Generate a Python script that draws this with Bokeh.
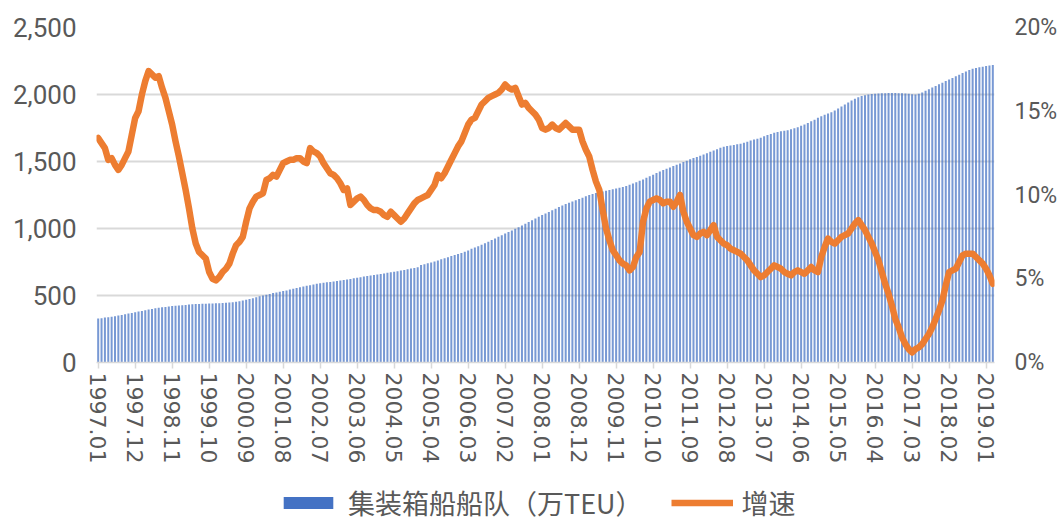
from bokeh.plotting import figure
from bokeh.layouts import column
from bokeh.models import (Range1d, LinearAxis, FixedTicker, NumeralTickFormatter,
                          Legend, LegendItem, ColumnDataSource)
from bokeh.embed import file_html
from bokeh.resources import INLINE

# ---------------- data ----------------
start_year = 1997
n_months = 267  # 1997.01 .. 2019.03
months = [f"{start_year + k // 12}.{k % 12 + 1:02d}" for k in range(n_months)]

tick_labels = ["1997.01", "1997.12", "1998.11", "1999.10", "2000.09", "2001.08",
               "2002.07", "2003.06", "2004.05", "2005.04", "2006.03", "2007.02",
               "2008.01", "2008.12", "2009.11", "2010.10", "2011.09", "2012.08",
               "2013.07", "2014.06", "2015.05", "2016.04", "2017.03", "2018.02",
               "2019.01"]

# 集装箱船船队 (万TEU), monthly
fleet = [
    328, 331, 335, 338, 342, 346, 350, 355, 360, 365, 370, 375,          # 1997
    380, 385, 390, 395, 400, 404, 408, 412, 415, 418, 421, 424,          # 1998
    426, 428, 430, 432, 434, 436, 437, 438, 439, 440, 441, 442,          # 1999
    443, 444, 446, 448, 450, 454, 458, 463, 468, 474, 480, 487,          # 2000
    494, 500, 506, 512, 518, 523, 528, 533, 538, 544, 550, 556,          # 2001
    562, 567, 572, 577, 582, 587, 591, 595, 598, 601, 604, 608,          # 2002
    612, 616, 620, 624, 628, 632, 637, 641, 645, 649, 653, 657,          # 2003
    661, 665, 669, 673, 677, 681, 686, 691, 696, 701, 706, 711,          # 2004
    728, 734, 740, 746, 754, 762, 770, 778, 786, 794, 802, 810,          # 2005
    818, 827, 836, 848, 858, 868, 879, 890, 902, 914, 926, 938,          # 2006
    950, 962, 974, 986, 998, 1010, 1022, 1035, 1048, 1061, 1074, 1087,   # 2007
    1100, 1112, 1124, 1136, 1148, 1160, 1172, 1182, 1192, 1201, 1210, 1220,  # 2008
    1230, 1240, 1250, 1258, 1264, 1270, 1276, 1282, 1287, 1292, 1298, 1304,  # 2009
    1310, 1318, 1326, 1336, 1346, 1356, 1366, 1378, 1390, 1402, 1414, 1425,  # 2010
    1436, 1446, 1456, 1466, 1476, 1486, 1496, 1506, 1516, 1526, 1534, 1542,  # 2011
    1552, 1562, 1572, 1582, 1592, 1602, 1610, 1616, 1620, 1624, 1628, 1632,  # 2012
    1640, 1648, 1656, 1664, 1670, 1678, 1688, 1698, 1706, 1714, 1720, 1726,  # 2013
    1730, 1734, 1740, 1748, 1756, 1766, 1776, 1788, 1800, 1812, 1826, 1838,  # 2014
    1848, 1858, 1868, 1880, 1895, 1910, 1925, 1940, 1955, 1968, 1980, 1988,  # 2015
    1995, 2000, 2004, 2006, 2008, 2010, 2010, 2011, 2012, 2011, 2010, 2010,  # 2016
    2008, 2005, 2002, 2000, 2005, 2015, 2028, 2040, 2052, 2064, 2076, 2088,  # 2017
    2100, 2112, 2124, 2136, 2148, 2160, 2172, 2182, 2192, 2198, 2204, 2208,  # 2018
    2212, 2216, 2220,                                                      # 2019
]

# 增速 (%), monthly
growth = [
    13.4, 13.1, 12.8, 12.1, 12.2, 11.8, 11.5, 11.8, 12.2, 12.6, 13.6, 14.6,  # 1997
    15.0, 16.0, 16.8, 17.4, 17.2, 17.0, 17.1, 16.4, 15.8, 15.0, 14.2, 13.2,  # 1998
    12.3, 11.3, 10.3, 9.2, 8.0, 7.1, 6.6, 6.4, 6.2, 5.4, 5.0, 4.9,           # 1999
    5.1, 5.4, 5.6, 5.9, 6.5, 7.0, 7.2, 7.5, 8.4, 9.2, 9.6, 9.9,              # 2000
    10.0, 10.1, 10.9, 11.0, 11.2, 11.1, 11.5, 11.9, 12.0, 12.1, 12.1, 12.2,  # 2001
    12.2, 12.0, 11.9, 12.8, 12.6, 12.5, 12.3, 11.9, 11.6, 11.3, 11.2, 11.0,  # 2002
    10.7, 10.3, 10.4, 9.4, 9.6, 9.8, 9.9, 9.7, 9.4, 9.2, 9.1, 9.1,           # 2003
    9.0, 8.8, 8.7, 9.0, 8.8, 8.6, 8.4, 8.6, 8.9, 9.2, 9.5, 9.7,              # 2004
    9.8, 9.9, 10.0, 10.3, 10.6, 11.2, 11.0, 11.3, 11.7, 12.1, 12.5, 12.9,    # 2005
    13.2, 13.7, 14.2, 14.5, 14.6, 15.0, 15.4, 15.6, 15.8, 15.9, 16.0, 16.1,  # 2006
    16.3, 16.6, 16.4, 16.3, 16.4, 15.9, 15.4, 15.5, 15.2, 15.0, 14.8, 14.5,  # 2007
    14.0, 13.9, 14.0, 14.2, 14.0, 13.9, 14.1, 14.3, 14.1, 13.9, 13.9, 13.9,  # 2008
    13.2, 12.7, 12.3, 11.5, 10.8, 10.3, 9.1, 8.0, 7.3, 6.7, 6.4, 6.1,        # 2009
    5.9, 5.8, 5.5, 5.7, 6.3, 6.6, 8.4, 9.2, 9.6, 9.7, 9.8, 9.7,              # 2010
    9.5, 9.6, 9.6, 9.3, 9.6, 10.0, 9.0, 8.4, 8.0, 7.6, 7.5, 7.7,             # 2011
    7.8, 7.6, 7.9, 8.2, 7.5, 7.3, 7.1, 7.0, 6.8, 6.7, 6.6, 6.5,              # 2012
    6.3, 6.1, 5.8, 5.5, 5.3, 5.1, 5.2, 5.4, 5.6, 5.8, 5.7, 5.6,              # 2013
    5.4, 5.3, 5.2, 5.4, 5.5, 5.4, 5.3, 5.5, 5.7, 5.5, 5.4, 6.3,              # 2014
    6.9, 7.4, 7.2, 7.1, 7.3, 7.5, 7.6, 7.7, 8.0, 8.3, 8.5, 8.2,              # 2015
    7.9, 7.5, 7.1, 6.6, 6.1, 5.4, 4.7, 4.1, 3.4, 2.6, 2.1, 1.5,              # 2016
    1.1, 0.8, 0.6, 0.8, 0.9, 1.1, 1.4, 1.7, 2.1, 2.6, 3.1, 3.7,              # 2017
    4.6, 5.4, 5.5, 5.6, 6.0, 6.4, 6.5, 6.5, 6.5, 6.3, 6.1, 5.9,              # 2018
    5.6, 5.2, 4.7,                                                          # 2019
]

left_ticks = [0, 500, 1000, 1500, 2000, 2500]
right_ticks = [0, 5, 10, 15, 20]
right_labels = ["0%", "5%", "10%", "15%", "20%"]

series_fleet = "集装箱船船队（万TEU）"
series_growth = "增速"

# ---------------- figure ----------------
BAR = "#4472C4"
LINE = "#ED7D31"
TXT = "#595959"
GRID = "#D9D9D9"

src = ColumnDataSource(dict(x=list(range(n_months)), fleet=fleet, growth=growth, month=months))

p = figure(width=1060, height=480, output_backend="svg", toolbar_location=None,
           x_range=Range1d(-0.5, n_months - 0.5), y_range=Range1d(0, 2500),
           min_border_left=96, min_border_right=66, min_border_top=27, min_border_bottom=118,
           y_axis_location=None, x_axis_location=None)
p.outline_line_color = None
p.background_fill_color = "white"
p.border_fill_color = "white"
p.extra_y_ranges = {"pct": Range1d(0, 20)}

bars = p.vbar(x="x", top="fleet", width=0.6, source=src, fill_color=BAR, fill_alpha=0.72,
              line_color=None)
line = p.line(x="x", y="growth", source=src, y_range_name="pct", line_color=LINE,
              line_width=6.5, line_join="round", line_cap="round")

# x axis
tick_pos = [months.index(t) for t in tick_labels]
xaxis = LinearAxis(ticker=FixedTicker(ticks=tick_pos),
                   major_label_overrides={pos: lab for pos, lab in zip(tick_pos, tick_labels)})
xaxis.major_label_orientation = "vertical"
xaxis.major_label_text_font = "DejaVu Sans"
xaxis.major_label_text_font_size = "22px"
xaxis.major_label_text_color = TXT
xaxis.axis_line_color = GRID
xaxis.axis_line_width = 1.5
xaxis.major_tick_line_color = GRID
xaxis.major_tick_line_width = 1.5
xaxis.major_tick_out = 6
xaxis.major_tick_in = 0
xaxis.minor_tick_line_color = None
xaxis.major_label_standoff = 4
p.add_layout(xaxis, "below")

# left axis
yaxis = LinearAxis(ticker=FixedTicker(ticks=left_ticks), formatter=NumeralTickFormatter(format="0,0"))
yaxis.axis_line_color = None
yaxis.major_tick_line_color = None
yaxis.minor_tick_line_color = None
yaxis.major_tick_out = 0
yaxis.major_tick_in = 0
yaxis.major_label_text_font = "Roboto"
yaxis.major_label_text_font_size = "26px"
yaxis.major_label_text_color = TXT
yaxis.major_label_standoff = 20
p.add_layout(yaxis, "left")

# right axis
raxis = LinearAxis(y_range_name="pct", ticker=FixedTicker(ticks=right_ticks),
                   major_label_overrides={t: l for t, l in zip(right_ticks, right_labels)})
raxis.axis_line_color = None
raxis.major_tick_line_color = None
raxis.minor_tick_line_color = None
raxis.major_tick_out = 0
raxis.major_tick_in = 0
raxis.major_label_text_font = "Roboto"
raxis.major_label_text_font_size = "23px"
raxis.major_label_text_color = TXT
raxis.major_label_standoff = 20
p.add_layout(raxis, "right")

# grid
p.xgrid.visible = False
p.ygrid.ticker = FixedTicker(ticks=left_ticks)
p.ygrid.grid_line_color = GRID
p.ygrid.grid_line_width = 2

# ---------------- legend strip ----------------
lg = figure(width=1060, height=42, output_backend="svg", toolbar_location=None,
            x_range=Range1d(0, 1), y_range=Range1d(0, 1),
            min_border=0, x_axis_location=None, y_axis_location=None)
lg.outline_line_color = None
lg.grid.visible = False
lg_src = ColumnDataSource(dict(x=[-10.0], y=[-10.0]))
lg_bar = lg.vbar(x="x", top="y", width=0.5, source=lg_src, fill_color=BAR, line_color=None)
lg_line = lg.line(x="x", y="y", source=lg_src, line_color=LINE, line_width=6.5)

legend = Legend(items=[LegendItem(label=series_fleet, renderers=[lg_bar]),
                       LegendItem(label=series_growth, renderers=[lg_line])],
                orientation="horizontal", location=(181, 0),
                glyph_width=62, glyph_height=15, label_height=30,
                label_standoff=9, spacing=28, padding=0, margin=0,
                border_line_color=None, background_fill_alpha=0,
                label_text_font="Noto Sans CJK SC", label_text_font_size="27px",
                label_text_color=TXT)
lg.add_layout(legend)

layout = column(p, lg, spacing=0)
open("out.html", "w").write(file_html(layout, INLINE))
